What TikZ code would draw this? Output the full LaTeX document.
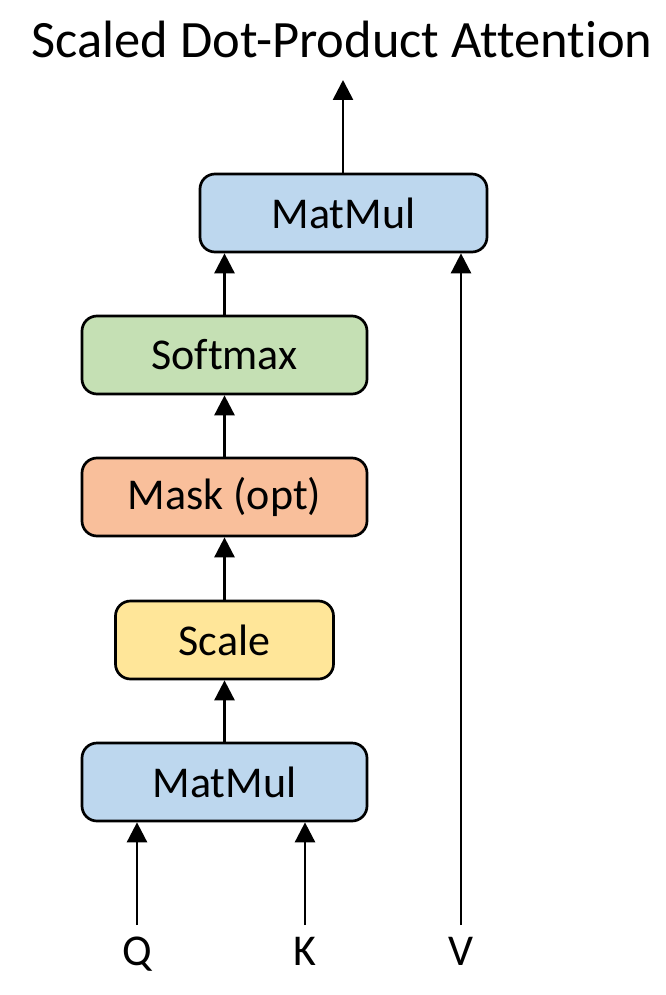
\documentclass[tikz,border=0pt]{standalone}
\usepackage{fontspec}
\setmainfont{Carlito}[Ligatures=NoCommon]
\usetikzlibrary{arrows.meta,positioning}

\definecolor{matblue}{HTML}{BDD7EE}
\definecolor{softgreen}{HTML}{C5E0B4}
\definecolor{maskorange}{HTML}{F9BF9B}
\definecolor{scaleyellow}{HTML}{FFE699}

\begin{document}
\begin{tikzpicture}[x=1pt,y=-1pt,
  box/.style={draw, line width=2.7pt, rounded corners=15pt, minimum height=78pt,
    minimum width=285pt, font=\fontsize{44}{48}\selectfont},
  arr/.style={-{Triangle[length=20pt,width=20pt]}, line width=2.7pt},
  lbl/.style={font=\fontsize{44}{48}\selectfont, anchor=base}]
\useasboundingbox (0,0) rectangle (665,995);

% title
\node [font=\fontsize{52.5}{56}\selectfont, anchor=base] (title) at (342,58) {Scaled Dot-Product Attention};

% boxes
\node [box, fill=matblue, minimum width=287pt] (mmtop) at (343.5,213) {MatMul};
\node [box, fill=softgreen] (softmax) at (224.5,355) {Softmax};
\node [box, fill=maskorange] (mask) at (224.5,497) {Mask (opt)};
\node [box, fill=scaleyellow, minimum width=218pt] (scale) at (224.5,640) {Scale};
\node [box, fill=matblue] (mmbot) at (224.5,782) {MatMul};

% inputs
\node [lbl] (q) at (137,965) {Q};
\node [lbl] (k) at (305,965) {K};
\node [lbl] (v) at (461,965) {V};
\coordinate (qtop) at (137,925);
\coordinate (ktop) at (305,925);
\coordinate (vtop) at (461,925);
\coordinate (out) at (343,80);

% connectors
\draw [arr] (qtop) -- (qtop |- mmbot.south);
\draw [arr] (ktop) -- (ktop |- mmbot.south);
\draw [arr] (vtop) -- (vtop |- mmtop.south);
\draw [arr] (mmbot) -- (scale);
\draw [arr] (scale) -- (mask);
\draw [arr] (mask) -- (softmax);
\draw [arr] (softmax.north) -- (softmax.north |- mmtop.south);
\draw [arr] (mmtop.north -| out) -- (out);

\end{tikzpicture}
\end{document}
